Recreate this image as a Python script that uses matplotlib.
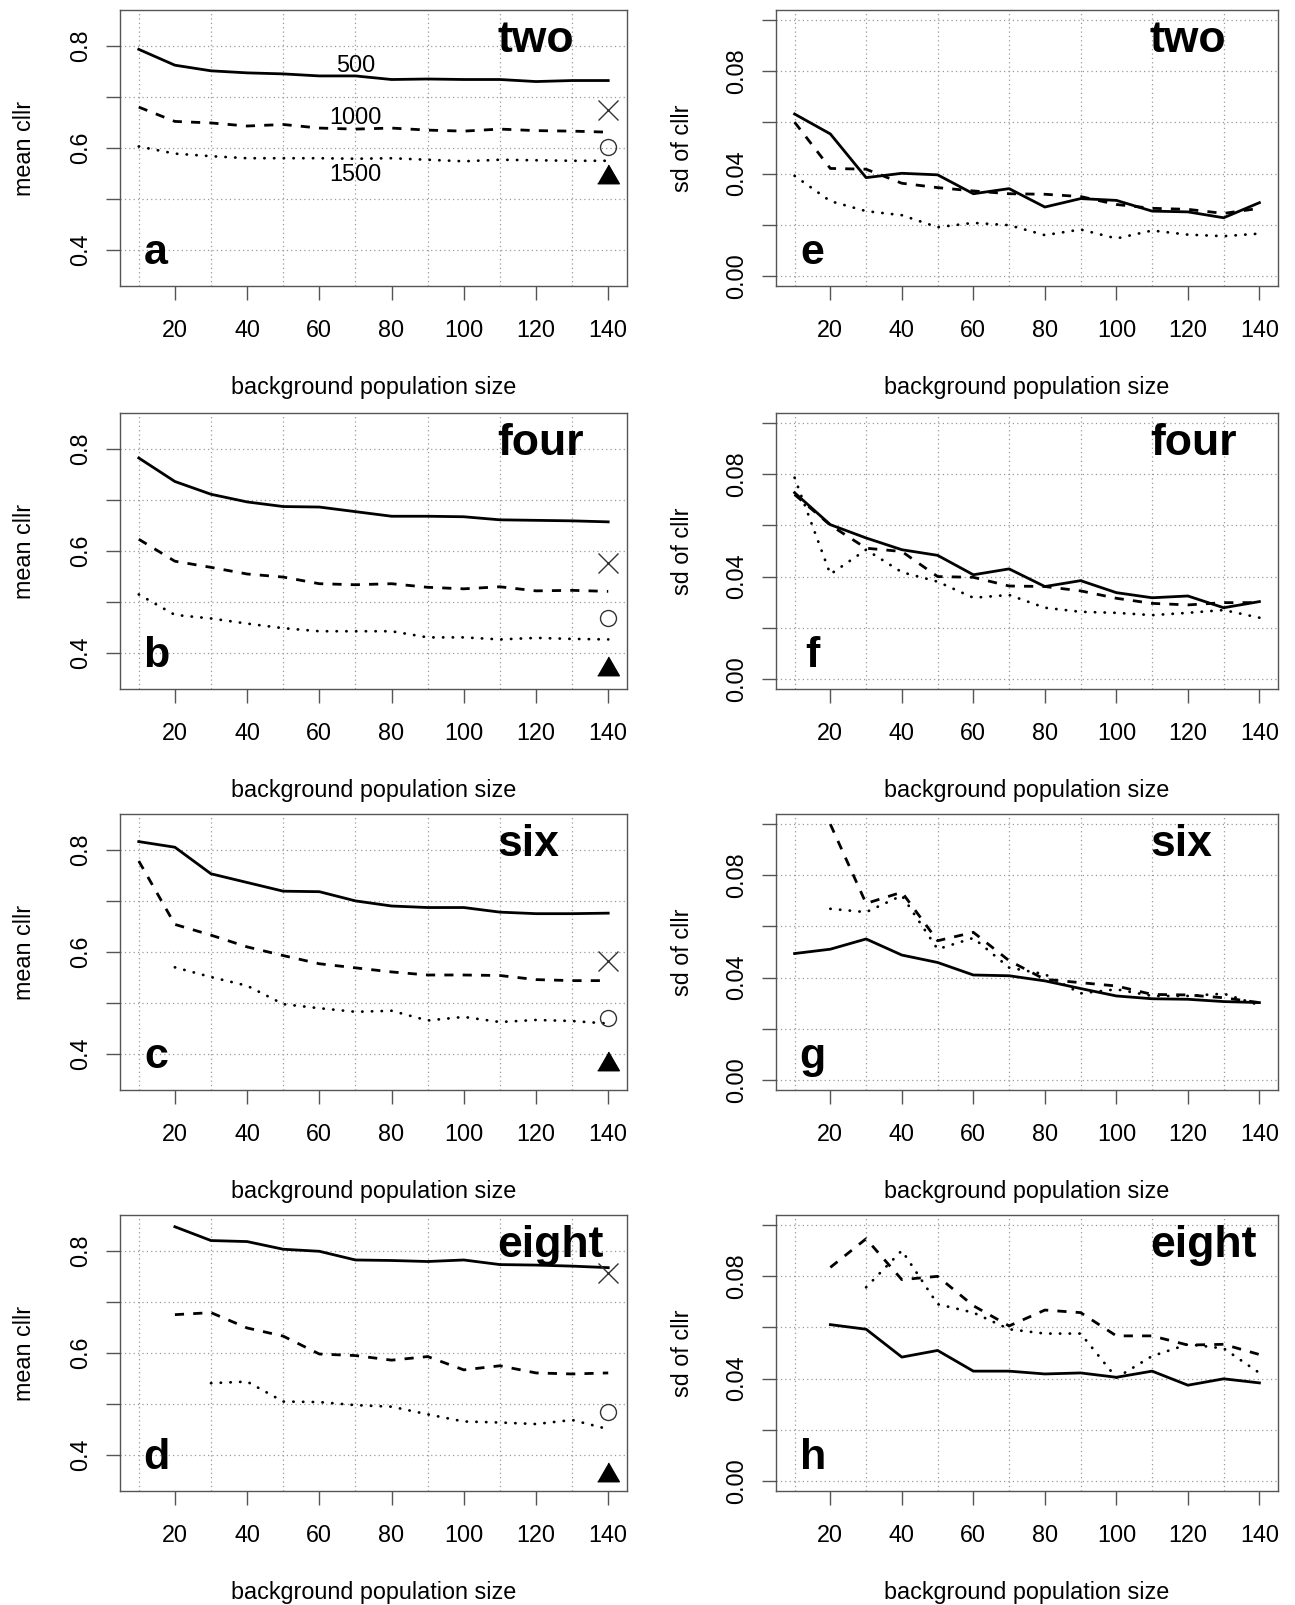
import numpy as np
import matplotlib
matplotlib.use("Agg")
import matplotlib.pyplot as plt

plt.rcParams['font.family'] = ['Liberation Sans', 'DejaVu Sans']

nan = np.nan

# background population sizes
sizes = [10, 20, 30, 40, 50, 60, 70, 80, 90, 100, 110, 120, 130, 140]

# mean cllr, one list per curve (500 / 1000 / 1500)
two_500 = [0.793, 0.762, 0.751, 0.747, 0.745, 0.741, 0.741, 0.734, 0.735, 0.734, 0.734, 0.730, 0.732, 0.732]
two_1000 = [0.680, 0.652, 0.649, 0.643, 0.646, 0.639, 0.637, 0.639, 0.635, 0.633, 0.637, 0.634, 0.633, 0.631]
two_1500 = [0.603, 0.589, 0.584, 0.580, 0.580, 0.580, 0.579, 0.580, 0.577, 0.574, 0.577, 0.576, 0.575, 0.575]

four_500 = [0.782, 0.736, 0.711, 0.696, 0.687, 0.686, 0.677, 0.668, 0.668, 0.667, 0.661, 0.660, 0.659, 0.657]
four_1000 = [0.623, 0.580, 0.568, 0.555, 0.549, 0.536, 0.534, 0.536, 0.529, 0.526, 0.530, 0.522, 0.523, 0.521]
four_1500 = [0.515, 0.475, 0.468, 0.458, 0.449, 0.443, 0.443, 0.443, 0.431, 0.431, 0.427, 0.430, 0.428, 0.427]

six_500 = [0.816, 0.805, 0.753, 0.736, 0.719, 0.718, 0.700, 0.690, 0.687, 0.687, 0.678, 0.675, 0.675, 0.676]
six_1000 = [0.778, 0.654, 0.633, 0.610, 0.593, 0.577, 0.569, 0.561, 0.555, 0.555, 0.554, 0.546, 0.544, 0.544]
six_1500 = [nan, 0.570, 0.551, 0.534, 0.498, 0.490, 0.483, 0.485, 0.466, 0.473, 0.463, 0.467, 0.465, 0.460]

eight_500 = [nan, 0.847, 0.820, 0.818, 0.803, 0.799, 0.782, 0.781, 0.779, 0.782, 0.773, 0.772, 0.770, 0.767]
eight_1000 = [nan, 0.675, 0.679, 0.649, 0.633, 0.598, 0.595, 0.586, 0.593, 0.567, 0.575, 0.561, 0.559, 0.561]
eight_1500 = [nan, nan, 0.541, 0.544, 0.505, 0.504, 0.498, 0.495, 0.480, 0.466, 0.464, 0.461, 0.469, 0.451]

# sd of cllr
two_sd_500 = [0.0633, 0.0555, 0.0384, 0.0401, 0.0395, 0.0321, 0.0341, 0.0269, 0.0302, 0.0295, 0.0253, 0.0250, 0.0227, 0.0286]
two_sd_1000 = [0.0601, 0.0420, 0.0417, 0.0362, 0.0345, 0.0332, 0.0321, 0.0319, 0.0310, 0.0279, 0.0264, 0.0260, 0.0244, 0.0264]
two_sd_1500 = [0.0391, 0.0292, 0.0253, 0.0237, 0.0190, 0.0207, 0.0198, 0.0159, 0.0181, 0.0146, 0.0177, 0.0161, 0.0155, 0.0165]

four_sd_500 = [0.0728, 0.0603, 0.0551, 0.0505, 0.0483, 0.0407, 0.0430, 0.0361, 0.0384, 0.0337, 0.0317, 0.0324, 0.0278, 0.0302]
four_sd_1000 = [0.0721, 0.0601, 0.0511, 0.0498, 0.0400, 0.0397, 0.0363, 0.0361, 0.0344, 0.0315, 0.0295, 0.0289, 0.0298, 0.0298]
four_sd_1500 = [0.0787, 0.0409, 0.0505, 0.0417, 0.0380, 0.0317, 0.0328, 0.0278, 0.0262, 0.0258, 0.0249, 0.0258, 0.0269, 0.0239]

six_sd_500 = [0.0494, 0.0511, 0.0551, 0.0488, 0.0459, 0.0410, 0.0407, 0.0387, 0.0357, 0.0328, 0.0317, 0.0315, 0.0306, 0.0302]
six_sd_1000 = [nan, 0.1000, 0.0690, 0.0734, 0.0544, 0.0577, 0.0466, 0.0393, 0.0380, 0.0367, 0.0334, 0.0332, 0.0321, 0.0302]
six_sd_1500 = [nan, 0.0669, 0.0656, 0.0721, 0.0511, 0.0555, 0.0439, 0.0413, 0.0338, 0.0354, 0.0328, 0.0328, 0.0337, 0.0292]

eight_sd_500 = [nan, 0.0611, 0.0593, 0.0484, 0.0510, 0.0429, 0.0429, 0.0418, 0.0422, 0.0405, 0.0429, 0.0374, 0.0399, 0.0383]
eight_sd_1000 = [nan, 0.0835, 0.0947, 0.0787, 0.0800, 0.0685, 0.0606, 0.0668, 0.0658, 0.0567, 0.0567, 0.0531, 0.0534, 0.0494]
eight_sd_1500 = [nan, nan, 0.0757, 0.0901, 0.0691, 0.0658, 0.0593, 0.0576, 0.0576, 0.0403, 0.0488, 0.0534, 0.0518, 0.0422]

# single reference points at size 140 (cross, circle, triangle)
cross_vals = [0.675, 0.576, 0.582, 0.756]
circle_vals = [0.601, 0.469, 0.471, 0.484]
tri_vals = [0.543, 0.369, 0.380, 0.361]

panel_names = ["two", "four", "six", "eight"]
mean_letters = ["a", "b", "c", "d"]
sd_letters = ["e", "f", "g", "h"]
mean_series = [(two_500, two_1000, two_1500), (four_500, four_1000, four_1500),
               (six_500, six_1000, six_1500), (eight_500, eight_1000, eight_1500)]
sd_series = [(two_sd_500, two_sd_1000, two_sd_1500), (four_sd_500, four_sd_1000, four_sd_1500),
             (six_sd_500, six_sd_1000, six_sd_1500), (eight_sd_500, eight_sd_1000, eight_sd_1500)]

series_labels = ["500", "1000", "1500"]
label_y = [0.762, 0.660, 0.549]

# line styles: solid, dashed, dotted
styles = [dict(ls='-'),
          dict(ls=(0, (3.3, 3.3))),
          dict(ls=(0, (0.1, 3.4)), dash_capstyle='round')]

# R-style filled triangle
tri_marker = [(0, 1.555), (1.347, -0.778), (-1.347, -0.778)]

W, H = 1295, 1605
col_left = [120, 776]
col_width = [507, 502]
row_top = [10, 413, 814, 1215]
row_h = 276

fs = 16.8
box_col = '#555555'
grid_col = '#999999'


def style_axes(ax, yticks, ylabels):
    ax.set_xlim(4.8, 145.2)
    ax.set_xticks([20, 40, 60, 80, 100, 120, 140])
    ax.set_xticks(sizes, minor=True)
    ax.set_yticks(yticks, labels=ylabels, rotation=90, va='center', fontsize=fs)
    ax.tick_params(axis='x', which='major', length=10, width=1, color=box_col,
                   pad=13.5, labelsize=fs)
    ax.tick_params(axis='y', which='major', length=10, width=1, color=box_col, pad=10)
    ax.tick_params(which='minor', length=0)
    ax.grid(True, which='minor', axis='x', color=grid_col, lw=0.9, ls=(0, (1, 2.5)))
    ax.grid(True, which='major', axis='y', color=grid_col, lw=0.9, ls=(0, (1, 2.5)))
    ax.set_axisbelow(True)
    for sp in ax.spines.values():
        sp.set_color(box_col)
        sp.set_linewidth(1.0)
    ax.set_xlabel("background population size", fontsize=fs, va='baseline')
    ax.xaxis.set_label_coords(0.5, -0.39)


fig = plt.figure(figsize=(W / 100, H / 100), dpi=100)

for r in range(4):
    # left column: mean cllr
    ax = fig.add_axes([col_left[0] / W, 1 - (row_top[r] + row_h) / H,
                       col_width[0] / W, row_h / H])
    for vals, st in zip(mean_series[r], styles):
        ax.plot(sizes, vals, color='black', lw=2.0, **st)
    ax.plot([140], [cross_vals[r]], marker='x', ms=14, mew=1.0, color='#333333', ls='none')
    ax.plot([140], [circle_vals[r]], marker='o', ms=11.5, mew=1.0, mfc='none',
            color='#333333', ls='none')
    ax.plot([140], [tri_vals[r]], marker=tri_marker, ms=18, color='black', ls='none')
    ax.set_ylim(0.33, 0.87)
    style_axes(ax, [0.4, 0.5, 0.6, 0.7, 0.8], ["0.4", "", "0.6", "", "0.8"])
    ax.set_ylabel("mean cllr", fontsize=fs, va='baseline')
    ax.yaxis.set_label_coords(-0.176, 0.5)
    ax.text(0.745, 0.848, panel_names[r], transform=ax.transAxes, ha='left',
            va='baseline', fontsize=32, fontweight='bold')
    ax.text(0.071, 0.08, mean_letters[r], transform=ax.transAxes, ha='center',
            va='baseline', fontsize=31, fontweight='bold')
    if r == 0:
        for lab, yv in zip(series_labels, label_y):
            ax.text(70, yv, lab, ha='center', va='center', fontsize=fs)

    # right column: sd of cllr
    ax = fig.add_axes([col_left[1] / W, 1 - (row_top[r] + row_h) / H,
                       col_width[1] / W, row_h / H])
    for vals, st in zip(sd_series[r], styles):
        ax.plot(sizes, vals, color='black', lw=2.0, **st)
    ax.set_ylim(-0.004, 0.104)
    style_axes(ax, [0.0, 0.02, 0.04, 0.06, 0.08, 0.10],
               ["0.00", "", "0.04", "", "0.08", ""])
    ax.set_ylabel("sd of cllr", fontsize=fs, va='baseline')
    ax.yaxis.set_label_coords(-0.173, 0.5)
    ax.text(0.745, 0.848, panel_names[r], transform=ax.transAxes, ha='left',
            va='baseline', fontsize=32, fontweight='bold')
    ax.text(0.073, 0.08, sd_letters[r], transform=ax.transAxes, ha='center',
            va='baseline', fontsize=31, fontweight='bold')

fig.savefig("out.png", dpi=100)
